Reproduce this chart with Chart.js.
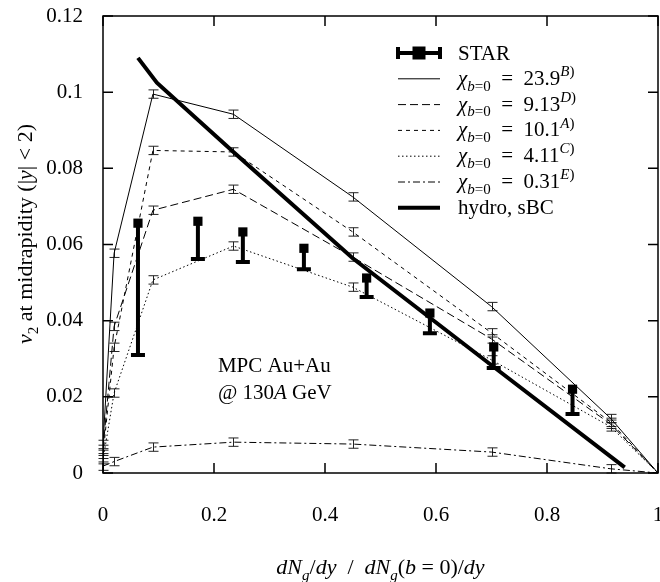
<!DOCTYPE html>
<html>
<head>
<meta charset="utf-8">
<script src="https://cdn.jsdelivr.net/npm/chart.js@4.4.0/dist/chart.umd.min.js"></script>
<style>
  html, body { margin: 0; padding: 0; background: #fff; overflow: hidden; }
  #wrap { width: 680px; height: 582px; }
</style>
</head>
<body>
<div id="wrap"><canvas id="c" width="680" height="582"></canvas></div>
<script>
// model curves (parton cascade), common x positions
var xModel = [0, 0.02, 0.09, 0.235, 0.45, 0.7, 0.915, 1.0];
var chi239 = [0.0075, 0.0577, 0.0995, 0.0942, 0.0725, 0.0437, 0.0143, 0];
var chi913 = [0.0062, 0.0385, 0.069, 0.0745, 0.0567, 0.0352, 0.0128, 0];
var chi101 = [0.0049, 0.033, 0.0847, 0.0843, 0.0633, 0.0368, 0.0133, 0];
var chi411 = [0.0035, 0.021, 0.0507, 0.0596, 0.0488, 0.0297, 0.0121, 0];
var chi031 = [0.0018, 0.003, 0.0068, 0.0081, 0.0076, 0.0055, 0.0011, 0];
var modelErr = 0.0011;

var chiValues = ["23.9", "9.13", "10.1", "4.11", "0.31"];
var chiRefs = ["B", "D", "A", "C", "E"];

// hydro, sBC
var hydroX = [0.063, 0.097, 0.235, 0.45, 0.7, 0.94];
var hydroY = [0.109, 0.1025, 0.0843, 0.0564, 0.0283, 0.0015];

// STAR data, errors only downwards
var starX = [0.063, 0.171, 0.252, 0.362, 0.475, 0.589, 0.704, 0.846];
var starY = [0.0656, 0.0661, 0.0633, 0.059, 0.0512, 0.042, 0.0331, 0.022];
var starLow = [0.031, 0.0562, 0.0554, 0.0535, 0.0462, 0.0367, 0.0276, 0.0155];

var xTicks = [0, 0.2, 0.4, 0.6, 0.8, 1];
var yTicks = [0, 0.02, 0.04, 0.06, 0.08, 0.1, 0.12];

var FAM = '"Liberation Serif", "DejaVu Serif", serif';
var FS = 21;
var TS = 22; // axis titles

function pts(xs, ys) {
  return xs.map(function (x, i) { return { x: x, y: ys[i] }; });
}

// draw a run of text pieces; flags: i italic, b subscript, p superscript
function rich(ctx, parts, x, y, align, size) {
  var fonts = parts.map(function (p) {
    var f = p[1];
    var s = (f.indexOf("b") >= 0 || f.indexOf("p") >= 0) ? Math.round(size * 0.7) : size;
    return (f.indexOf("i") >= 0 ? "italic " : "") + s + "px " + FAM;
  });
  var w = 0;
  var ws = parts.map(function (p, i) {
    ctx.font = fonts[i];
    var m = ctx.measureText(p[0]).width;
    w += m;
    return m;
  });
  var cx = align === "center" ? x - w / 2 : (align === "right" ? x - w : x);
  ctx.textAlign = "left";
  ctx.textBaseline = "alphabetic";
  ctx.fillStyle = "#000";
  parts.forEach(function (p, i) {
    ctx.font = fonts[i];
    var dy = p[1].indexOf("b") >= 0 ? size * 0.28 : (p[1].indexOf("p") >= 0 ? -size * 0.42 : 0);
    ctx.fillText(p[0], cx, y + dy);
    cx += ws[i];
  });
}

function chiLabel(i) {
  return [["χ", "i"], ["b", "ib"], ["=0", "b"], ["  =  " + chiValues[i], ""], [chiRefs[i], "ip"], [")", "p"]];
}

var modelSeries = [chi239, chi913, chi101, chi411, chi031];
var dashes = [[], [8, 4], [4, 4], [1.5, 2.5], [7, 3, 2, 3]];

var datasets = modelSeries.map(function (arr, i) {
  return {
    label: "chi " + chiValues[i],
    data: pts(xModel, arr),
    borderColor: "#000",
    borderWidth: 1,
    borderDash: dashes[i],
    pointRadius: 0,
    fill: false,
    tension: 0,
    isModel: true
  };
});
datasets.push({
  label: "hydro, sBC",
  data: pts(hydroX, hydroY),
  borderColor: "#000",
  borderWidth: 4,
  pointRadius: 0,
  fill: false,
  tension: 0
});
datasets.push({
  label: "STAR",
  data: pts(starX, starY),
  showLine: false,
  pointStyle: "rect",
  pointRadius: 6.5,
  pointHoverRadius: 6.5,
  backgroundColor: "#000",
  borderColor: "#000",
  borderWidth: 0
});

var extras = {
  id: "extras",
  beforeDatasetsDraw: function (chart) {
    var ctx = chart.ctx, xs = chart.scales.x, ys = chart.scales.y;
    ctx.save();
    // model error bars
    ctx.strokeStyle = "#222";
    ctx.lineWidth = 1;
    ctx.setLineDash([]);
    modelSeries.forEach(function (arr) {
      arr.forEach(function (v, i) {
        if (v === 0) return;
        var px = Math.round(xs.getPixelForValue(xModel[i])) + 0.5;
        var y1 = ys.getPixelForValue(v + modelErr), y2 = ys.getPixelForValue(Math.max(0, v - modelErr));
        ctx.beginPath();
        ctx.moveTo(px, y1); ctx.lineTo(px, y2);
        ctx.moveTo(px - 5, y1); ctx.lineTo(px + 5, y1);
        ctx.moveTo(px - 5, y2); ctx.lineTo(px + 5, y2);
        ctx.stroke();
      });
    });
    // STAR error bars
    ctx.strokeStyle = "#000";
    ctx.lineWidth = 4;
    starX.forEach(function (x, i) {
      var px = xs.getPixelForValue(x);
      var yt = ys.getPixelForValue(starY[i]), yb = ys.getPixelForValue(starLow[i]);
      ctx.beginPath();
      ctx.moveTo(px, yt); ctx.lineTo(px, yb);
      ctx.moveTo(px - 7, yb); ctx.lineTo(px + 7, yb);
      ctx.stroke();
    });
    ctx.restore();
  },
  afterDraw: function (chart) {
    var ctx = chart.ctx, a = chart.chartArea, xs = chart.scales.x, ys = chart.scales.y;
    ctx.save();
    // frame with inward ticks
    ctx.strokeStyle = "#000";
    ctx.lineWidth = 1.5;
    ctx.setLineDash([]);
    ctx.strokeRect(a.left, a.top, a.right - a.left, a.bottom - a.top);
    ctx.beginPath();
    xTicks.forEach(function (v) {
      var p = xs.getPixelForValue(v);
      ctx.moveTo(p, a.bottom); ctx.lineTo(p, a.bottom - 10);
      ctx.moveTo(p, a.top); ctx.lineTo(p, a.top + 10);
    });
    yTicks.forEach(function (v) {
      var p = ys.getPixelForValue(v);
      ctx.moveTo(a.left, p); ctx.lineTo(a.left + 10, p);
      ctx.moveTo(a.right, p); ctx.lineTo(a.right - 10, p);
    });
    ctx.stroke();

    // legend
    var lx0 = a.left + 295, lx1 = lx0 + 42, tx = lx0 + 60, ry = a.top + 37, step = 25.8;
    ctx.lineWidth = 4;
    ctx.beginPath();
    ctx.moveTo(lx0, ry); ctx.lineTo(lx1, ry);
    ctx.moveTo(lx0, ry - 6); ctx.lineTo(lx0, ry + 6);
    ctx.moveTo(lx1, ry - 6); ctx.lineTo(lx1, ry + 6);
    ctx.stroke();
    ctx.fillStyle = "#000";
    ctx.fillRect((lx0 + lx1) / 2 - 6.5, ry - 6.5, 13, 13);
    rich(ctx, [["STAR", ""]], tx, ry + 7, "left", FS);
    chart.data.datasets.forEach(function (ds, i) {
      if (ds.label === "STAR") return;
      var y = ry + step * (i + 1);
      ctx.lineWidth = ds.borderWidth;
      ctx.setLineDash(ds.borderDash || []);
      ctx.beginPath();
      ctx.moveTo(lx0, y); ctx.lineTo(lx1, y);
      ctx.stroke();
      ctx.setLineDash([]);
      var parts = ds.isModel ? chiLabel(i) : [["hydro, sBC", ""]];
      rich(ctx, parts, tx, y + 6, "left", FS);
    });

    // annotation
    var ax = xs.getPixelForValue(0.207);
    rich(ctx, [["MPC Au+Au", ""]], ax, ys.getPixelForValue(0.0283) + 7, "left", FS);
    rich(ctx, [["@ 130", ""], ["A", "i"], [" GeV", ""]], ax, ys.getPixelForValue(0.0213) + 7, "left", FS);

    // axis titles
    rich(ctx, [["dN", "i"], ["g", "ib"], ["/", ""], ["dy", "i"], ["  /  ", ""], ["dN", "i"], ["g", "ib"],
      ["(", ""], ["b", "i"], [" = 0)/", ""], ["dy", "i"]], (a.left + a.right) / 2, 574, "center", TS);
    ctx.translate(32, 234);
    ctx.rotate(-Math.PI / 2);
    rich(ctx, [["v", "i"], ["2", "b"], [" at midrapidity (|", ""], ["y", "i"], ["| < 2)", ""]], 0, 0, "center", TS);
    ctx.restore();
  }
};

var tickFont = { family: FAM, size: FS };

new Chart(document.getElementById("c"), {
  type: "line",
  data: { datasets: datasets },
  options: {
    responsive: false,
    animation: false,
    devicePixelRatio: 1,
    layout: { padding: { top: 16, right: 22, left: 0, bottom: 0 } },
    plugins: { legend: { display: false }, tooltip: { enabled: false } },
    scales: {
      x: {
        type: "linear",
        min: 0,
        max: 1,
        afterBuildTicks: function (s) { s.ticks = xTicks.map(function (v) { return { value: v }; }); },
        afterFit: function (s) { s.height = 109; s.paddingLeft = 0; s.paddingRight = 0; },
        ticks: { color: "#000", font: tickFont, padding: 30, maxRotation: 0,
          callback: function (v) { return String(v); } },
        grid: { display: false, drawTicks: false },
        border: { display: false }
      },
      y: {
        type: "linear",
        min: 0,
        max: 0.12,
        afterBuildTicks: function (s) { s.ticks = yTicks.map(function (v) { return { value: v }; }); },
        afterFit: function (s) { s.width = 103; s.paddingTop = 0; s.paddingBottom = 0; },
        ticks: { color: "#000", font: tickFont, padding: 20,
          callback: function (v) { return String(v); } },
        grid: { display: false, drawTicks: false },
        border: { display: false }
      }
    }
  },
  plugins: [extras]
});
</script>
</body>
</html>
